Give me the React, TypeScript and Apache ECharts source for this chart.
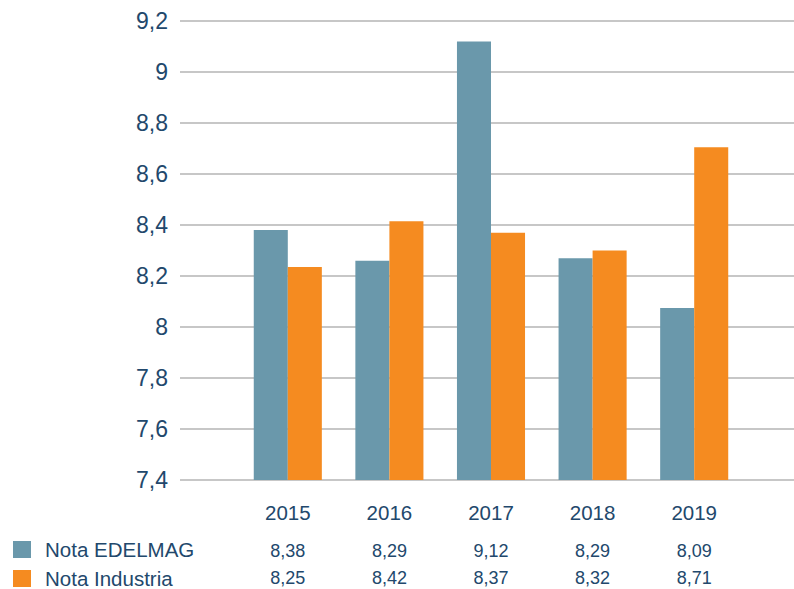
import React, { useEffect, useRef } from "react";
import * as echarts from "echarts";

const categories = ["2015", "2016", "2017", "2018", "2019"];
const seriesNames = ["Nota EDELMAG", "Nota Industria"];
// bar heights as drawn
const edelmagBars = [8.38, 8.26, 9.12, 8.27, 8.075];
const industriaBars = [8.235, 8.415, 8.37, 8.3, 8.705];
// values printed in the data table
const edelmagTable = ["8,38", "8,29", "9,12", "8,29", "8,09"];
const industriaTable = ["8,25", "8,42", "8,37", "8,32", "8,71"];
const yMin = 7.4;
const yMax = 9.2;
const yStep = 0.2;

const TEXT = "#22486c";
const TEAL = "#6a98ab";
const ORANGE = "#f58b20";
const FONT = "'Liberation Sans', Arial, sans-serif";

const legendBase = {
  orient: "vertical",
  left: 13,
  padding: 0,
  itemWidth: 18,
  itemHeight: 17,
  icon: "rect",
  selectedMode: false,
  textStyle: { color: TEXT, fontSize: 20.5, lineHeight: 18, fontFamily: FONT, padding: [0, 0, 0, 9] },
};

export default function App() {
  const ref = useRef<HTMLDivElement>(null);
  useEffect(() => {
    if (!ref.current) return;
    const chart = echarts.init(ref.current, null, { renderer: "svg" });
    chart.setOption({
      animation: false,
      backgroundColor: "#ffffff",
      textStyle: { fontFamily: FONT },
      legend: [
        { ...legendBase, top: 539, data: [seriesNames[0]] },
        { ...legendBase, top: 568, data: [seriesNames[1]] },
      ],
      grid: [
        { left: 180, right: 0, top: 21, bottom: 109 },
        { left: 237, right: 49, top: 21, bottom: 109 },
      ],
      xAxis: [
        { type: "category", gridIndex: 0, data: ["x"], show: false },
        {
          type: "category",
          gridIndex: 1,
          data: categories,
          axisLine: { show: false },
          axisTick: { show: false },
          axisLabel: {
            margin: 7,
            interval: 0,
            formatter: (v: string, i: number) =>
              `{y|${v}}\n{a|${edelmagTable[i]}}\n{b|${industriaTable[i]}}`,
            rich: {
              y: { fontSize: 20.5, lineHeight: 50, color: TEXT, fontFamily: FONT },
              a: { fontSize: 18, lineHeight: 28, color: TEXT, fontFamily: FONT },
              b: { fontSize: 18, lineHeight: 26, color: TEXT, fontFamily: FONT },
            },
          },
        },
      ],
      yAxis: [
        {
          type: "value",
          gridIndex: 0,
          min: yMin,
          max: yMax,
          interval: yStep,
          axisLine: { show: false },
          axisTick: { show: false },
          splitLine: { lineStyle: { color: "#b4b4b4", width: 1.5 } },
          axisLabel: {
            margin: 12,
            fontSize: 23,
            color: TEXT,
            fontFamily: FONT,
            formatter: (v: number) => String(Math.round(v * 10) / 10).replace(".", ","),
          },
        },
        {
          type: "value",
          gridIndex: 1,
          min: yMin,
          max: yMax,
          interval: yStep,
          show: false,
          splitLine: { show: false },
        },
      ],
      series: [
        {
          name: seriesNames[0],
          type: "bar",
          xAxisIndex: 1,
          yAxisIndex: 1,
          data: edelmagBars,
          itemStyle: { color: TEAL },
          barGap: "0%",
          barCategoryGap: "33%",
        },
        {
          name: seriesNames[1],
          type: "bar",
          xAxisIndex: 1,
          yAxisIndex: 1,
          data: industriaBars,
          itemStyle: { color: ORANGE },
          barGap: "0%",
          barCategoryGap: "33%",
        },
      ],
    });
    return () => chart.dispose();
  }, []);
  return <div ref={ref} style={{ width: 794, height: 589, position: "fixed", left: 0, top: 0 }} />;
}
